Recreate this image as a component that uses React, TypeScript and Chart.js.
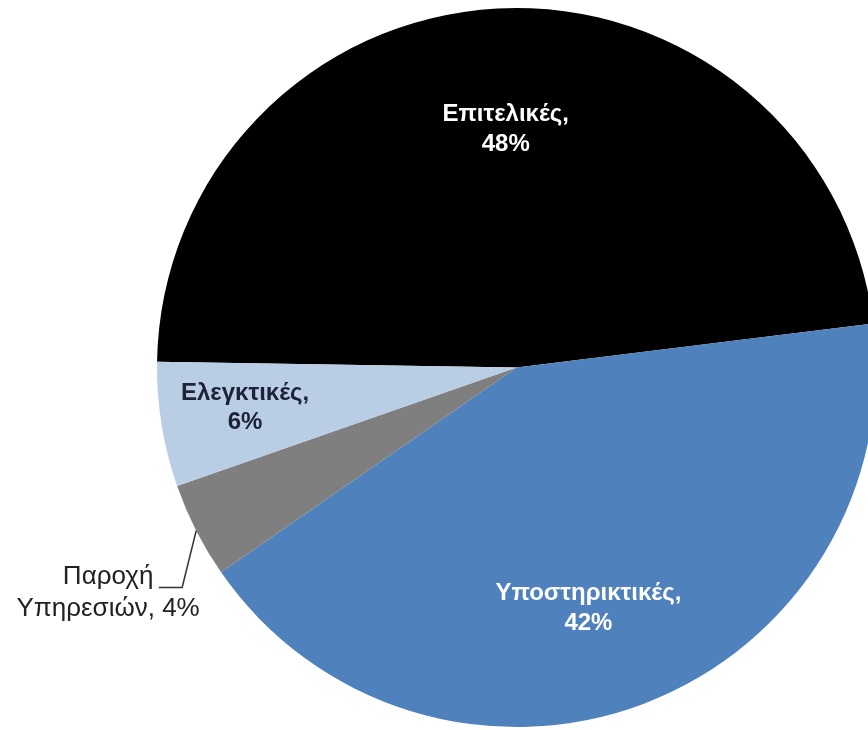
import React, { useEffect, useRef } from "react";
import { Chart, registerables } from "chart.js";

Chart.register(...registerables);

const categories = ["Επιτελικές", "Υποστηρικτικές", "Παροχή Υπηρεσιών", "Ελεγκτικές"];
const values = [47.8, 42.3, 4.3, 5.6];
const percentLabels = ["48%", "42%", "4%", "6%"];
const labelLines = [
  ["Επιτελικές,", "48%"],
  ["Υποστηρικτικές,", "42%"],
  ["Παροχή", "Υπηρεσιών, 4%"],
  ["Ελεγκτικές,", "6%"],
];
const sliceColors = ["#000000", "#4F81BD", "#7F7F7F", "#B9CDE5"];

export default function App() {
  const ref = useRef<HTMLCanvasElement | null>(null);

  useEffect(() => {
    if (!ref.current) return;
    const labelPlugin = {
      id: "sliceLabels",
      afterDraw(chart: any) {
        const meta = chart.getDatasetMeta(0);
        const arc0 = meta.data[0];
        if (!arc0) return;
        const cx = arc0.x;
        const cy = arc0.y;
        const r = arc0.outerRadius;
        const ctx = chart.ctx as CanvasRenderingContext2D;
        ctx.save();
        ctx.textAlign = "center";
        ctx.textBaseline = "middle";
        const spec = [
          { dx: -0.03, dy: [-0.705, -0.62], color: "#ffffff", weight: "bold", size: 24 },
          { dx: 0.2, dy: [0.627, 0.711], color: "#ffffff", weight: "bold", size: 24 },
          { dx: -1.136, dy: [0.583, 0.672], color: "#222222", weight: "normal", size: 26 },
          { dx: -0.755, dy: [0.071, 0.154], color: "#1c2336", weight: "bold", size: 24 },
        ];
        spec.forEach((s, i) => {
          ctx.fillStyle = s.color;
          ctx.font = `${s.weight} ${s.size}px "Liberation Sans", Arial, sans-serif`;
          labelLines[i].forEach((line, j) => {
            ctx.fillText(line, cx + s.dx * r, cy + s.dy[j] * r);
          });
        });
        // leader line for small slice
        const arc = meta.data[2];
        const mid = (arc.startAngle + arc.endAngle) / 2;
        const ex = cx + Math.cos(mid) * r;
        const ey = cy + Math.sin(mid) * r;
        ctx.strokeStyle = "#333333";
        ctx.lineWidth = 1.5;
        ctx.beginPath();
        ctx.moveTo(cx - 0.995 * r, cy + 0.612 * r);
        ctx.lineTo(cx - 0.93 * r, cy + 0.612 * r);
        ctx.lineTo(ex, ey);
        ctx.stroke();
        ctx.restore();
      },
    };
    const chart = new Chart(ref.current, {
      type: "pie",
      data: {
        labels: categories,
        datasets: [
          {
            data: values,
            backgroundColor: sliceColors,
            borderWidth: 0,
          },
        ],
      },
      options: {
        animation: false,
        responsive: false,
        rotation: 270.9,
        layout: { padding: { top: 8, bottom: 8, left: 0, right: 0 } },
        plugins: {
          legend: { display: false },
          tooltip: { enabled: false },
        },
      },
      plugins: [labelPlugin],
    });
    return () => chart.destroy();
  }, []);

  return (
    <div
      style={{
        position: "fixed",
        top: 0,
        left: 0,
        width: 868,
        height: 730,
        overflow: "hidden",
        background: "#ffffff",
      }}
    >
      <canvas ref={ref} width={1033} height={735} style={{ display: "block" }} />
    </div>
  );
}
